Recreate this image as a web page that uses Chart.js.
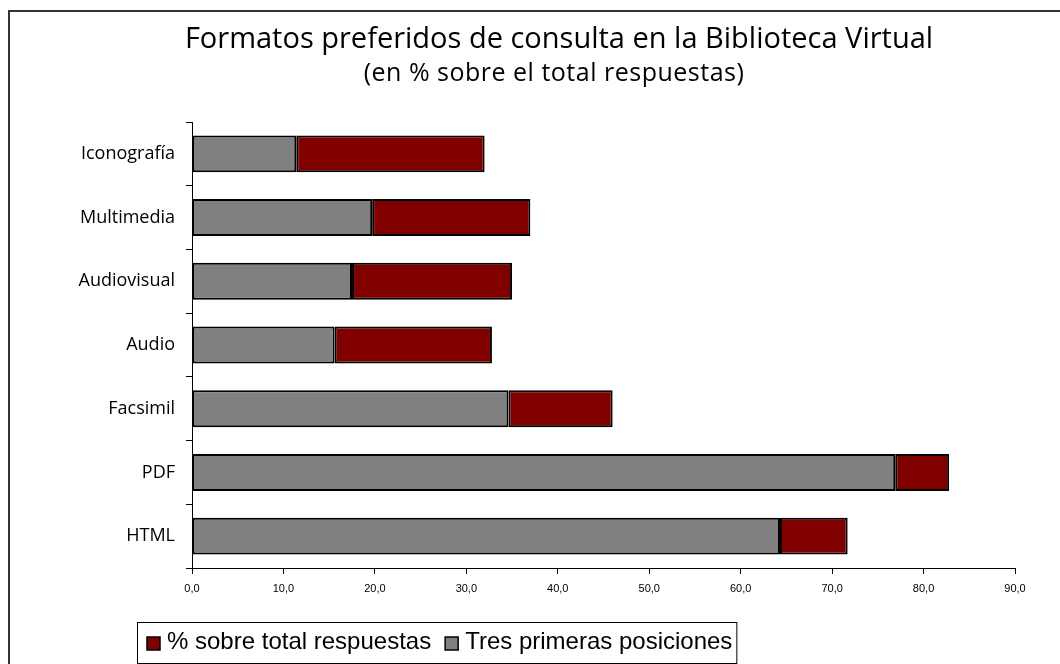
<!DOCTYPE html>
<html>
<head>
<meta charset="utf-8">
<script src="https://cdn.jsdelivr.net/npm/chart.js@4"></script>
<style>
  html, body { margin: 0; padding: 0; background: #fff; }
  #wrap { width: 1060px; height: 664px; position: relative; }
</style>
</head>
<body>
<div id="wrap"><canvas id="c"></canvas></div>
<script>
// categories, top to bottom
var categories = ['Iconografía', 'Multimedia', 'Audiovisual', 'Audio', 'Facsimil', 'PDF', 'HTML'];
// gray segment
var tresPrimeras = [11.4, 19.7, 17.5, 15.6, 34.6, 76.9, 64.3];
// red segment, stacked after the gray one
var sobreTotal = [20.6, 17.3, 17.5, 17.2, 11.4, 5.9, 7.4];
var xTicks = [0, 10, 20, 30, 40, 50, 60, 70, 80, 90];

var titleText = 'Formatos preferidos de consulta en la Biblioteca Virtual';
var subtitleText = '(en % sobre el total respuestas)';

var frameAndLegend = {
  id: 'frameAndLegend',
  afterDraw: function (chart) {
    var ctx = chart.ctx;
    ctx.save();
    // outer frame (runs off right and bottom)
    ctx.strokeStyle = '#333';
    ctx.lineWidth = 2;
    ctx.beginPath();
    ctx.moveTo(9, 700);
    ctx.lineTo(9, 11);
    ctx.lineTo(1100, 11);
    ctx.stroke();

    // titles
    ctx.fillStyle = '#000';
    ctx.textAlign = 'center';
    ctx.textBaseline = 'alphabetic';
    ctx.font = '29px "Open Sans", sans-serif';
    ctx.fillText(titleText, 559, 48);
    ctx.font = '25px "Open Sans", sans-serif';
    ctx.letterSpacing = '0.5px';
    ctx.fillText(subtitleText, 554, 81);
    ctx.letterSpacing = '0px';

    // legend box
    var items = chart.data.datasets.slice().reverse();
    ctx.textAlign = 'left';
    ctx.font = '24px "Liberation Sans", Arial, sans-serif';
    ctx.textBaseline = 'middle';
    var x = 147, cy = 643;
    var pieces = [];
    items.forEach(function (ds) {
      pieces.push({x: x, ds: ds});
      x += 13 + 7 + ctx.measureText(ds.label).width + 14;
    });
    ctx.lineWidth = 1;
    ctx.strokeStyle = '#000';
    ctx.strokeRect(137.5, 622.5, x - 14 + 4 - 137, 41);
    pieces.forEach(function (p) {
      ctx.fillStyle = p.ds.backgroundColor;
      ctx.fillRect(p.x, cy - 6, 13, 13);
      ctx.strokeStyle = '#000';
      ctx.lineWidth = 1.5;
      ctx.strokeRect(p.x, cy - 6, 13, 13);
      ctx.fillStyle = '#000';
      ctx.fillText(p.ds.label, p.x + 20, cy - 1);
    });
    ctx.restore();
  }
};

new Chart(document.getElementById('c'), {
  type: 'bar',
  data: {
    labels: categories,
    datasets: [
      {
        label: 'Tres primeras posiciones',
        data: tresPrimeras,
        backgroundColor: '#808080',
        borderColor: '#000',
        borderWidth: 2,
        borderSkipped: false
      },
      {
        label: '% sobre total respuestas',
        data: sobreTotal,
        backgroundColor: '#800000',
        borderColor: '#000',
        borderWidth: 2,
        borderSkipped: false
      }
    ]
  },
  options: {
    indexAxis: 'y',
    responsive: true,
    maintainAspectRatio: false,
    animation: false,
    categoryPercentage: 1,
    barPercentage: 0.58,
    layout: { padding: { top: 122, left: 0, right: 45, bottom: 66 } },
    plugins: {
      legend: { display: false },
      tooltip: { enabled: false },
      title: { display: false }
    },
    scales: {
      x: {
        stacked: true,
        min: 0,
        max: 90,
        afterBuildTicks: function (axis) {
          axis.ticks = xTicks.map(function (v) { return {value: v}; });
        },
        afterFit: function (axis) { axis.height = 30; },
        border: { display: true, color: '#000', width: 1 },
        grid: { drawOnChartArea: false, drawTicks: true, tickLength: 6, color: '#000' },
        ticks: {
          color: '#000',
          padding: 8,
          maxRotation: 0,
          font: { family: '"Liberation Sans", Arial, sans-serif', size: 11 },
          callback: function (v) { return Number(v).toFixed(1).replace('.', ','); }
        }
      },
      y: {
        stacked: true,
        afterFit: function (axis) { axis.width = 192; },
        border: { display: true, color: '#000', width: 1 },
        grid: { drawOnChartArea: false, drawTicks: true, tickLength: 6, color: '#000', offset: true },
        ticks: {
          color: '#000',
          padding: 11,
          font: { family: '"Open Sans", sans-serif', size: 18 }
        }
      }
    }
  },
  plugins: [frameAndLegend]
});
</script>
</body>
</html>
